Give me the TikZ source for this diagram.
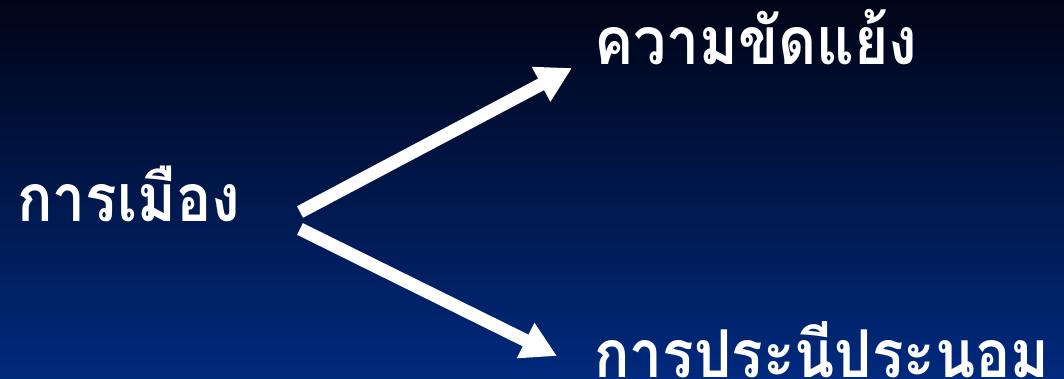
\documentclass[tikz,border=0pt]{standalone}
\usepackage{fontspec}
\newfontfamily\thaifont[Script=Thai,FakeStretch=0.89]{Loma}
\usetikzlibrary{arrows.meta}
\definecolor{bgtop}{HTML}{000416}
\definecolor{bgbot}{HTML}{002A7E}
\tikzset{
  label/.style={inner sep=0pt, text=white, font=\thaifont\bfseries\fontsize{66}{70}\selectfont},
  bigarrow/.style={draw=white, line width=13pt, -{Triangle[length=35pt,width=37pt]}}
}
\begin{document}
\begin{tikzpicture}[x=1pt,y=1pt]
\shade[top color=bgtop, bottom color=bgbot] (0,0) rectangle (1064,379);
\useasboundingbox (0,0) rectangle (1064,379);
\node[label, anchor=base west] (pol) at (17,157) {การเมือง};
\node[label, anchor=base west] (con) at (594,314) {ความขัดแย้ง};
\node[label, anchor=base west] (com) at (594,1) {การประนีประนอม};
\coordinate (s1) at (300,167);
\coordinate (t1) at (572,311);
\coordinate (s2) at (300,150);
\coordinate (t2) at (557,23);
\draw[bigarrow] (s1) -- (t1);
\draw[bigarrow] (s2) -- (t2);
\end{tikzpicture}
\end{document}
